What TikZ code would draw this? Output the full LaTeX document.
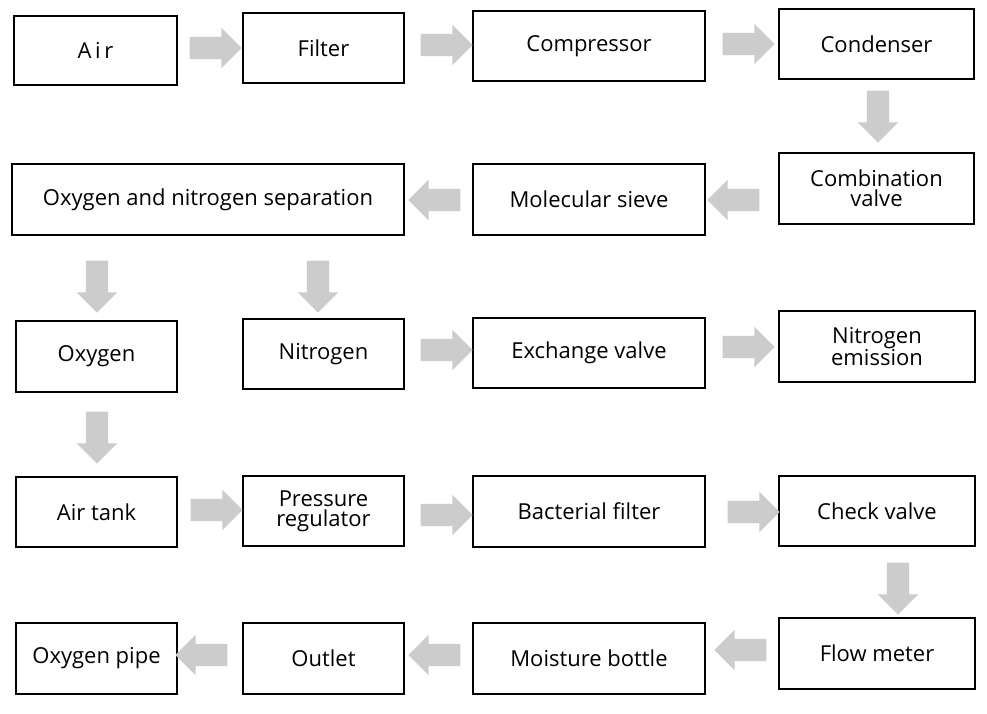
\documentclass[tikz,border=0pt]{standalone}
\usepackage{fontspec}
\setmainfont{Open Sans}
\usetikzlibrary{shapes.arrows}
\begin{document}
\begin{tikzpicture}[x=1pt,y=-1pt,
  box/.style={draw,line width=1.2pt,inner sep=0pt,align=center,font=\fontsize{22}{20}\selectfont},
  arr/.style={single arrow,fill=black!20,draw=none,single arrow head extend=9pt,single arrow tip angle=90,minimum height=52pt,inner sep=11pt}]
\useasboundingbox (0,0) rectangle (987,713);
\fill[white] (0,0) rectangle (987,713);
\newcommand{\bx}[6]{\node[box,minimum width=#4-#2,minimum height=#5-#3] (#1) at ({(#2+#4)/2},{(#3+#5)/2+2}) {#6};}
\bx{air}{14}{14}{177}{83}{A\,i\,r}
\bx{filter}{243}{11}{404}{81}{Filter}
\bx{comp}{473}{9}{705}{79}{Compressor}
\bx{cond}{779}{7}{974}{77}{Condenser}
\bx{comb}{779}{151}{974}{222}{Combination\\valve}
\bx{mol}{473}{162}{705}{233}{Molecular sieve}
\bx{sep}{12}{162}{404}{233}{Oxygen and nitrogen separation}
\bx{oxy}{16}{319}{177}{390}{Oxygen}
\bx{nit}{243}{317}{404}{387}{Nitrogen}
\bx{exch}{473}{316}{705}{386}{Exchange valve}
\bx{nemi}{779}{309}{975}{380}{Nitrogen\\emission}
\bx{tank}{16}{475}{177}{545}{Air tank}
\bx{pres}{243}{474}{404}{544}{Pressure\\regulator}
\bx{bact}{473}{474}{705}{545}{Bacterial filter}
\bx{check}{779}{474}{975}{544}{Check valve}
\bx{flow}{779}{616}{975}{687}{Flow meter}
\bx{moist}{473}{621}{705}{692}{Moisture bottle}
\bx{outlet}{243}{621}{404}{692}{Outlet}
\bx{pipe}{16}{621}{177}{692}{Oxygen pipe}
\node[arr] (a1) at (210,48) {};
\node[arr] (a2) at (441,45) {};
\node[arr] (a3) at (743,44) {};
\node[arr,rotate=-90] (a4) at (878,111) {};
\node[arr,rotate=180] (a5) at (739,200) {};
\node[arr,rotate=180] (a6) at (440,200) {};
\node[arr,rotate=-90] (a7) at (97,281) {};
\node[arr,rotate=-90] (a8) at (318,281) {};
\node[arr] (a9) at (441,350) {};
\node[arr] (a10) at (743,347) {};
\node[arr,rotate=-90] (a11) at (97,432) {};
\node[arr] (a12) at (211,510) {};
\node[arr] (a13) at (441,515) {};
\node[arr] (a14) at (748,512) {};
\node[arr,rotate=-90] (a15) at (898,583) {};
\node[arr,rotate=180] (a16) at (746,650) {};
\node[arr,rotate=180] (a17) at (440,655) {};
\node[arr,rotate=180] (a18) at (207,655) {};
\end{tikzpicture}
\end{document}
